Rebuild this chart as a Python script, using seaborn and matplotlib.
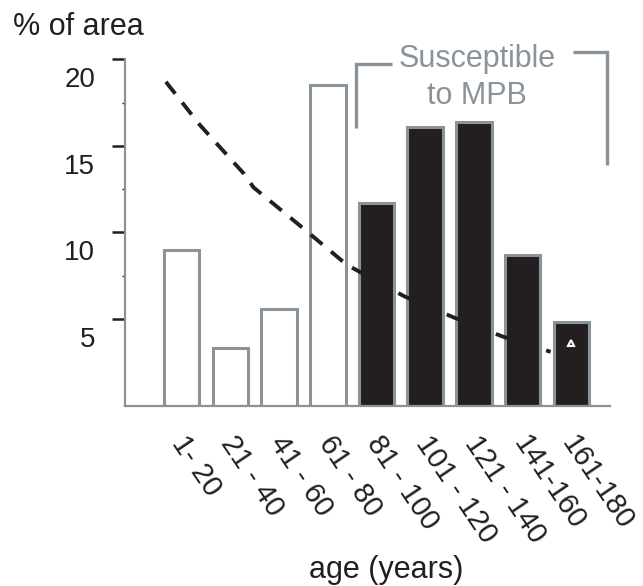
import numpy as np
import pandas as pd
import matplotlib
matplotlib.use("Agg")
import matplotlib.pyplot as plt
import matplotlib.transforms as mtransforms
import seaborn as sns

# ---------------- data ----------------
age_classes = ["1- 20", "21 - 40", "41 - 60", "61 - 80", "81 - 100",
               "101 - 120", "121 - 140", "141-160", "161-180"]
pct_area = [9.0, 3.3, 5.6, 18.5, 11.7, 16.1, 16.4, 8.7, 4.8]
susceptible = [False, False, False, False, True, True, True, True, True]

# dashed reference curve (age in years, % of area)
curve_age = [4, 18, 36, 40, 59, 76, 80, 102, 122, 142, 162]
curve_pct = [18.7, 16.2, 13.4, 12.6, 10.4, 8.4, 8.0, 6.3, 5.1, 4.0, 3.1]

# small triangle marker
marker_class = "161-180"
marker_pct = 3.6

y_ticks = [5, 10, 15, 20]
y_minor_ticks = [7.5, 12.5, 17.5]
class_width_years = 20
first_class_mid = 10.5

# ---------------- style ----------------
DARK = "#231f20"
GRAY = "#8a939a"

sns.set_theme(style="white")
plt.rcParams["font.family"] = ["Liberation Sans", "DejaVu Sans"]

df = pd.DataFrame({
    "age": age_classes,
    "pct": pct_area,
    "group": ["susceptible" if s else "young" for s in susceptible],
})

W, H = 643, 586
fig = plt.figure(figsize=(W / 100, H / 100), dpi=100)
ax = fig.add_axes([125 / W, 1 - 405.5 / H, 485 / W, 346.2 / H])

sns.barplot(data=df, x="age", y="pct", hue="group", order=age_classes,
            hue_order=["young", "susceptible"],
            palette={"young": "white", "susceptible": DARK},
            dodge=False, width=0.73, saturation=1, edgecolor=GRAY,
            linewidth=2.2, legend=False, ax=ax)

curve_pos = (np.array(curve_age) - first_class_mid) / class_width_years
sns.lineplot(x=curve_pos, y=curve_pct, ax=ax, color=DARK, linewidth=2.8,
             linestyle=(0, (3.9, 2.9)), sort=False)

mpos = age_classes.index(marker_class)
ax.plot([mpos], [marker_pct], marker="^", markersize=5, markerfacecolor=DARK,
        markeredgecolor="white", markeredgewidth=1.5, linestyle="none", zorder=4)

# bracket + annotation
ax.plot([3.58, 3.58, 4.31], [16.02, 19.74, 19.74], color=GRAY, lw=2.4,
        clip_on=False, solid_joinstyle="miter", solid_capstyle="butt")
ax.plot([8.03, 8.73, 8.73], [20.45, 20.45, 13.9], color=GRAY, lw=2.4,
        clip_on=False, solid_joinstyle="miter", solid_capstyle="butt")
ax.text(6.06, 19.58, "Susceptible", ha="center", va="baseline", color=GRAY,
        fontsize=22, clip_on=False)
ax.text(6.06, 17.43, "to MPB", ha="center", va="baseline", color=GRAY,
        fontsize=22, clip_on=False)

# axes
ax.set_xlim(-1.164, 8.795)
ax.set_ylim(0, 20)
sns.despine(ax=ax)
for s in ["left", "bottom"]:
    ax.spines[s].set_color(GRAY)
    ax.spines[s].set_linewidth(1.6)

ax.set_yticks(y_ticks)
ax.set_yticks(y_minor_ticks, minor=True)
ax.set_yticklabels([str(v) for v in y_ticks])
ax.tick_params(axis="y", which="major", direction="out", length=9.4, width=1.8,
               color=DARK, pad=12, labelsize=20, labelcolor=DARK, left=True)
ax.tick_params(axis="y", which="minor", direction="out", length=2.2, width=1.0,
               color=DARK, left=True)
ax.tick_params(axis="x", which="major", direction="in", length=4.3, width=1.5,
               color=DARK, pad=18, labelsize=21, labelcolor=DARK, bottom=True)

for lab in ax.get_xticklabels():
    lab.set_rotation(-56)
    lab.set_rotation_mode("anchor")
    lab.set_ha("left")
    lab.set_va("top")
    lab.set_transform(lab.get_transform() +
                      mtransforms.ScaledTranslation(0.08, 0, fig.dpi_scale_trans))
for lab in ax.get_yticklabels():
    lab.set_transform(lab.get_transform() +
                      mtransforms.ScaledTranslation(0, -0.18, fig.dpi_scale_trans))

ax.set_xlabel("age (years)", fontsize=22, color=DARK)
ax.xaxis.set_label_coords(0.538, -0.499)
ax.xaxis.label.set_va("baseline")
ax.set_ylabel("% of area", fontsize=22, color=DARK, rotation=0)
ax.yaxis.set_label_coords(-0.231, 1.070)
ax.yaxis.label.set_ha("left")
ax.yaxis.label.set_va("baseline")

fig.savefig("out.png", dpi=100)
